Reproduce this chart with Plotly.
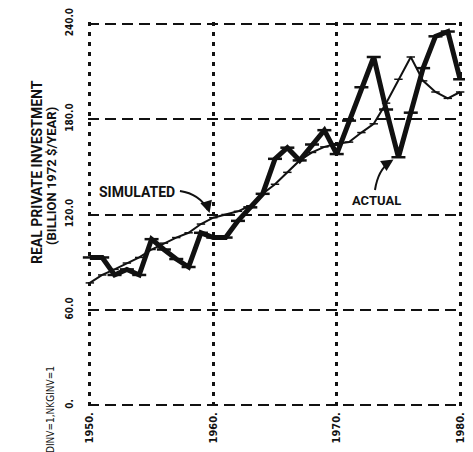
import plotly.graph_objects as go

years = list(range(1950, 1981))
actual = [93, 93, 82, 85.5, 82, 104.5, 98, 92, 87, 108.5,
          105.5, 105.5, 116, 124.5, 133, 155, 162, 154, 164, 173,
          158, 179, 200, 219, 186, 156, 184, 212, 232, 235, 205]
simulated = [77, 82, 85.5, 89.5, 93, 98, 102, 105.5, 108.5, 114,
             118, 120, 122, 125.5, 133, 139, 146.5, 154, 159, 162.5,
             164.5, 165.5, 171.5, 177, 190, 205, 219, 204, 197, 193, 197]

x_ticks = [1950, 1960, 1970, 1980]
x_labels = ["1950.", "1960.", "1970.", "1980."]
y_ticks = [0, 60, 120, 180, 240]
y_labels = ["0.", "60.0", "120.0", "180.0", "240.0"]

ytitle1 = "REAL PRIVATE INVESTMENT"
ytitle2 = "(BILLION 1972 $/YEAR)"
note = "DINV=1,NKGINV=1"

hand = "Roboto, 'DejaVu Sans', sans-serif"
narrow = "'Liberation Sans Narrow', 'DejaVu Sans Condensed', 'Liberation Sans', sans-serif"

# slightly padded ranges so the edge grid lines are drawn
XR = [1949.85, 1980.15]
YR = [-1.0, 241.0]

fig = go.Figure()
fig.add_trace(go.Scatter(
    x=years, y=simulated, mode="lines+markers",
    line=dict(color="#111", width=2),
    marker=dict(symbol="line-ew", size=6, line=dict(color="#111", width=1.5)),
    cliponaxis=False, showlegend=False))
fig.add_trace(go.Scatter(
    x=years, y=actual, mode="lines+markers",
    line=dict(color="#111", width=5),
    marker=dict(symbol="line-ew", size=10, line=dict(color="#111", width=2.5)),
    cliponaxis=False, showlegend=False))

# curved pointer lines
fig.add_shape(type="path", xref="x", yref="y",
              path="M 1957.3 134.8 Q 1958.9 132.9 1959.55 123",
              line=dict(color="#111", width=2))
fig.add_shape(type="path", xref="x", yref="y",
              path="M 1973.1 135.4 Q 1973.35 148 1974.3 153",
              line=dict(color="#111", width=2))

fig.add_annotation(x=1959.7, y=121, xref="x", yref="y", ax=-3, ay=-10,
                   showarrow=True, arrowhead=2, arrowsize=1.2, arrowwidth=2,
                   arrowcolor="#111", text="")
fig.add_annotation(x=1974.6, y=154.5, xref="x", yref="y", ax=-8, ay=5,
                   showarrow=True, arrowhead=2, arrowsize=1.2, arrowwidth=2,
                   arrowcolor="#111", text="")

fig.add_annotation(x=1953.8, y=134, xref="x", yref="y", text="<b>SIMULATED</b>",
                   showarrow=False, xanchor="center", yanchor="middle",
                   font=dict(family=hand, size=14, color="#111"))
fig.add_annotation(x=1973.2, y=128.5, xref="x", yref="y", text="<b>ACTUAL</b>",
                   showarrow=False, xanchor="center", yanchor="middle",
                   font=dict(family=hand, size=13, color="#111"))

L, R, T, B = 80, 19, 14, 53
W, H = 473, 452
pw, ph = W - L - R, H - T - B


def px2paper(px, py):
    return (px - L) / pw, 1 - (py - T) / ph


for (px, py, txt, fs, fam) in [
        (29, 164, "<b>" + ytitle1 + "</b>", 14, hand),
        (43, 168, "<b>" + ytitle2 + "</b>", 13, hand),
        (43, 402, note, 10, narrow)]:
    ax_, ay_ = px2paper(px, py)
    fig.add_annotation(x=ax_, y=ay_, xref="paper", yref="paper", text=txt,
                       showarrow=False, textangle=-90,
                       xanchor="center", yanchor="middle",
                       font=dict(family=fam, size=fs, color="#111"))

fig.update_layout(
    width=W, height=H,
    margin=dict(l=L, r=R, t=T, b=B, autoexpand=False),
    plot_bgcolor="white", paper_bgcolor="white",
    xaxis=dict(range=XR, tickvals=x_ticks, ticktext=["<b>%s</b>" % t for t in x_labels],
               tickangle=-90, showgrid=True, gridcolor="#111", gridwidth=2.5,
               griddash="4px,6px", zeroline=False, showline=False,
               ticks="", ticklabelstandoff=2, automargin=False,
               ticklabeloverflow="allow",
               tickfont=dict(family=narrow, size=11, color="#111")),
    yaxis=dict(range=YR, tickvals=y_ticks, ticktext=["<b>%s</b>" % t for t in y_labels],
               tickangle=-90, showgrid=True, gridcolor="#111", gridwidth=2,
               griddash="11px,6px", zeroline=False, showline=False,
               ticks="", ticklabelstandoff=12, automargin=False,
               ticklabeloverflow="allow",
               tickfont=dict(family=narrow, size=10, color="#111")),
)

fig.write_html("out.html")
